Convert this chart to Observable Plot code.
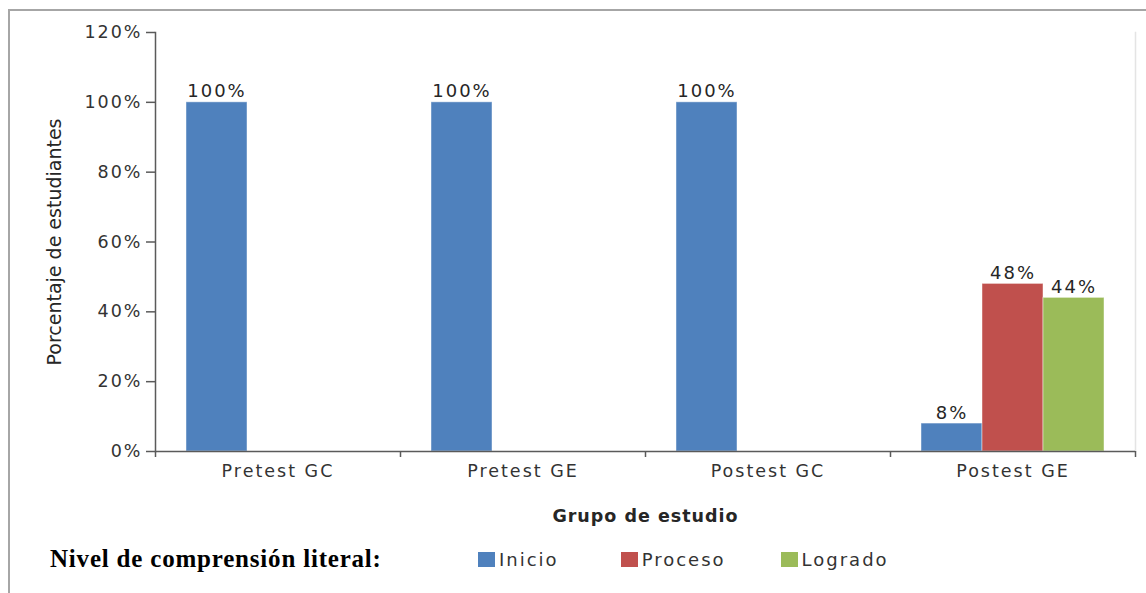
<!DOCTYPE html>
<html><head><meta charset="utf-8">
<script src="https://cdn.jsdelivr.net/npm/d3@7"></script>
<script src="https://cdn.jsdelivr.net/npm/@observablehq/plot@0.6"></script>
<style>
body{margin:0;background:#fff;}
#wrap{position:relative;width:1146px;height:593px;overflow:hidden;font-family:"DejaVu Sans",sans-serif;}
#border{position:absolute;left:8px;top:9px;width:1200px;height:700px;border-left:2px solid #a6a6a6;border-top:2px solid #a6a6a6;}
#chart{position:absolute;left:0;top:0;}
#chart svg{letter-spacing:2px;}
#chart g[aria-label="fx-axis label"] text{font-weight:bold;letter-spacing:1px;fill:#262626;}
#chart g[aria-label="y-axis label"] text{letter-spacing:0;font-size:19px;fill:#262626;}
#legend{position:absolute;left:50px;top:545px;display:flex;align-items:center;height:28px;}
#legend .title{font-family:"Liberation Serif",serif;font-weight:bold;font-size:25px;letter-spacing:0.8px;color:#000;width:428px;}
#legend .item{display:flex;align-items:center;font-size:18px;letter-spacing:2px;color:#333;}
#legend .sw{width:17px;height:15px;margin-right:4px;}
</style>
</head><body>
<div id="wrap">
  <div id="border"></div>
  <div id="chart"></div>
  <div id="legend"></div>
</div>
<script>
const groups = ["Pretest GC", "Pretest GE", "Postest GC", "Postest GE"];
const levels = ["Inicio", "Proceso", "Logrado"];
const inicio = [100, 100, 100, 8];
const proceso = [0, 0, 0, 48];
const logrado = [0, 0, 0, 44];
const colors = ["#4F81BD", "#C0504D", "#9BBB59"];
const yTicks = [0, 20, 40, 60, 80, 100, 120];
const legendTitle = "Nivel de comprensión literal:";

const series = [inicio, proceso, logrado];
const rows = [];
groups.forEach((g, i) => levels.forEach((l, j) => rows.push({group: g, level: l, value: series[j][i]})));
const shown = rows.filter(d => d.value > 0);

const W = 1146, H = 532, mL = 155, mR = 11, mT = 32, mB = H - 451;
const facetW = (W - mL - mR) / groups.length;
const axisColor = "#5a5a5a";

const plot = Plot.plot({
  width: W, height: H,
  marginLeft: mL, marginRight: mR, marginTop: mT, marginBottom: mB,
  style: {background: "transparent", fontFamily: "DejaVu Sans, sans-serif", fontSize: "17.5px", color: "#333", overflow: "visible"},
  fx: {domain: groups, padding: 0},
  x: {domain: levels, paddingInner: 0, paddingOuter: 0.5, axis: null},
  y: {domain: [0, 120], axis: null},
  color: {domain: levels, range: colors},
  marks: [
    Plot.frame({anchor: "right", facetAnchor: "right", stroke: "#e4e4e4", strokeWidth: 1.5}),
    Plot.barY(shown, {fx: "group", x: "level", y: "value", fill: "level", stroke: "#ffffff", strokeOpacity: 0.45, strokeWidth: 1}),
    Plot.frame({anchor: "left", facetAnchor: "left", stroke: axisColor, strokeWidth: 1.5}),
    Plot.ruleY([0], {stroke: axisColor, strokeWidth: 1.5}),
    Plot.ruleX(groups, {fx: d => d, x: () => "Proceso", y1: 0, y2: 0, insetBottom: -6, dx: -facetW / 2, stroke: axisColor, strokeWidth: 1.5}),
    Plot.ruleX(groups.slice(-1), {fx: d => d, x: () => "Proceso", y1: 0, y2: 0, insetBottom: -6, dx: facetW / 2, stroke: axisColor, strokeWidth: 1.5}),
    Plot.text(shown, {fx: "group", x: "level", y: "value", text: d => d.value + "%", lineAnchor: "bottom", dy: -5, fill: "#262626", fontSize: 18}),
    Plot.axisY({ticks: yTicks, tickFormat: d => d + "%", tickSize: 9, tickPadding: 4, stroke: axisColor, strokeWidth: 1.5,
      label: "Porcentaje de estudiantes", labelAnchor: "center", labelOffset: 108, labelArrow: "none"}),
    Plot.axisFx({anchor: "bottom", tickSize: 0, tickPadding: 13, label: "Grupo de estudio", labelAnchor: "center", labelOffset: 70, labelArrow: "none"})
  ]
});
document.getElementById("chart").appendChild(plot);

const legend = document.getElementById("legend");
const t = document.createElement("div");
t.className = "title";
t.textContent = legendTitle;
legend.appendChild(t);
const gaps = [0, 62, 55];
levels.forEach((l, i) => {
  const it = document.createElement("div");
  it.className = "item";
  it.style.marginLeft = gaps[i] + "px";
  const sw = document.createElement("div");
  sw.className = "sw";
  sw.style.background = colors[i];
  it.appendChild(sw);
  const s = document.createElement("span");
  s.textContent = l;
  it.appendChild(s);
  legend.appendChild(it);
});
</script>
</body></html>
